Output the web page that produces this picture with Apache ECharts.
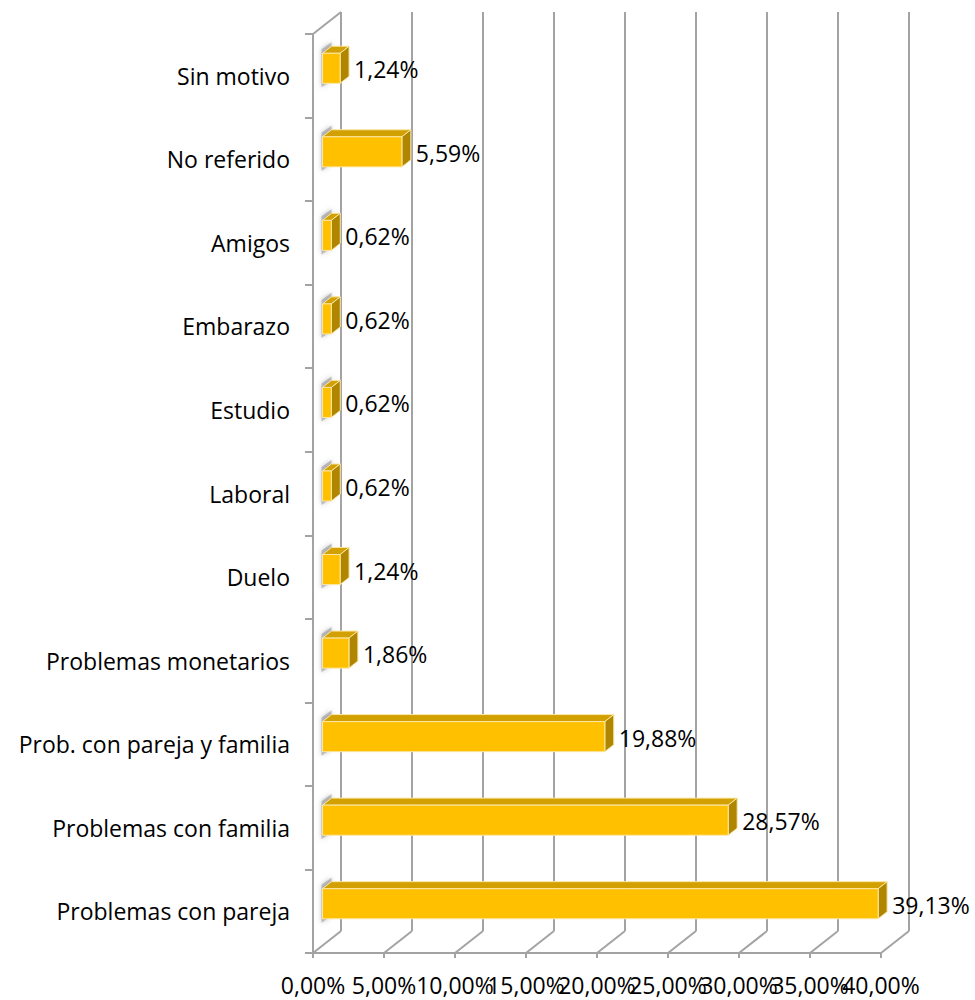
<!DOCTYPE html>
<html>
<head>
<meta charset="utf-8">
<script src="https://cdn.jsdelivr.net/npm/echarts@6/dist/echarts.min.js"></script>
<style>
  html, body { margin: 0; padding: 0; background: #fff; }
  #chart { width: 975px; height: 1000px; }
</style>
</head>
<body>
<div id="chart"></div>
<script>
// Motivos (top to bottom) and their share of cases, in percent
const categories = [
  'Sin motivo',
  'No referido',
  'Amigos',
  'Embarazo',
  'Estudio',
  'Laboral',
  'Duelo',
  'Problemas monetarios',
  'Prob. con pareja y familia',
  'Problemas con familia',
  'Problemas con pareja'
];
const values = [1.24, 5.59, 0.62, 0.62, 0.62, 0.62, 1.24, 1.86, 19.88, 28.57, 39.13];

// Value axis ticks (percent)
const xTicks = [0, 5, 10, 15, 20, 25, 30, 35, 40];

// 3D look: depth of the plot box and the slice occupied by the bars
const DX = 28, DY = -22;
const F0 = 0.34, F1 = 0.66;
const BAR_FRAC = 0.36;

const FONT = '"Open Sans", Lato, sans-serif';
const FONT_SIZE = 23;
const GRID_COLOR = '#a3a3a3';

const fmtPct = v => v.toFixed(2).replace('.', ',') + '%';

const chart = echarts.init(document.getElementById('chart'), null, { renderer: 'svg' });

function renderBar(params, api) {
  const i = api.value(1);
  const val = api.value(0);
  const p0 = api.coord([0, i]);
  const p1 = api.coord([val, i]);
  const band = api.size([0, 1])[1];
  const h = band * BAR_FRAC;
  const fx = DX * F0, fy = DY * F0;
  const ddx = DX * (F1 - F0), ddy = DY * (F1 - F0);
  const x0 = p0[0] + fx, x1 = p1[0] + fx;
  const yT = p0[1] + fy - h / 2, yB = yT + h;
  const edge = { stroke: '#fbe7a6', lineWidth: 1 };
  return {
    type: 'group',
    children: [
      // soft shade on the side wall around the bar end
      {
        type: 'polygon',
        shape: { points: [[x0 - 1, yT - 4], [x0 + ddx, yT + ddy - 4], [x0 + ddx, yB + ddy + 4], [x0 - 1, yB + 4]] },
        style: { fill: 'rgba(150,150,150,0.55)', shadowBlur: 5, shadowColor: 'rgba(120,120,120,0.8)' }
      },
      {
        type: 'polygon',
        shape: { points: [[x0, yT], [x1, yT], [x1 + ddx, yT + ddy], [x0 + ddx, yT + ddy]] },
        style: Object.assign({ fill: '#d2a000' }, edge)
      },
      {
        type: 'polygon',
        shape: { points: [[x1, yT], [x1 + ddx, yT + ddy], [x1 + ddx, yB + ddy], [x1, yB]] },
        style: Object.assign({ fill: '#b08600' }, edge)
      },
      {
        type: 'rect',
        shape: { x: x0, y: yT, width: x1 - x0, height: h },
        style: Object.assign({ fill: '#ffc000' }, edge)
      },
      {
        type: 'text',
        x: x1 + ddx + 5,
        y: (yT + yB) / 2 + 1,
        style: {
          text: fmtPct(val),
          font: FONT_SIZE + 'px ' + FONT,
          fill: '#000',
          align: 'left',
          verticalAlign: 'middle'
        }
      }
    ]
  };
}

// Floor lines running back from each value tick, plus the tick label under it
function renderFloor(params, api) {
  const v = api.value(0);
  const cs = params.coordSys;
  const x = api.coord([v, 0])[0];
  const bottom = cs.y + cs.height;
  const style = { stroke: GRID_COLOR, lineWidth: 2 };
  const children = [
    { type: 'line', shape: { x1: x, y1: bottom, x2: x + DX, y2: bottom + DY }, style },
    {
      type: 'text', x: x, y: bottom + 32,
      style: {
        text: fmtPct(v), font: FONT_SIZE + 'px ' + FONT, fill: '#000',
        lineHeight: 24, align: 'center', verticalAlign: 'middle'
      }
    }
  ];
  if (v === 0) {
    // top edge of the side wall
    children.push({ type: 'line', shape: { x1: cs.x, y1: cs.y, x2: cs.x + DX, y2: cs.y + DY }, style });
  }
  return { type: 'group', children };
}

const option = {
  backgroundColor: '#ffffff',
  animation: false,
  grid: [
    { left: 313, top: 34, width: 568, height: 919 },
    { left: 313 + DX, top: 34 + DY, width: 568, height: 919 }
  ],
  xAxis: [
    {
      gridIndex: 0, type: 'value', min: 0, max: 40, interval: 5,
      axisLine: { show: true, lineStyle: { color: GRID_COLOR, width: 2 } },
      axisTick: { show: true, length: 5, lineStyle: { color: GRID_COLOR, width: 2 } },
      splitLine: { show: false },
      axisLabel: { show: false }
    },
    {
      gridIndex: 1, type: 'value', min: 0, max: 40, interval: 5,
      axisLine: { show: false }, axisTick: { show: false }, axisLabel: { show: false },
      splitLine: { show: true, lineStyle: { color: GRID_COLOR, width: 2 } }
    }
  ],
  yAxis: [
    {
      gridIndex: 0, type: 'category', data: categories, inverse: true,
      axisLine: { show: true, lineStyle: { color: GRID_COLOR, width: 2 } },
      axisTick: { show: true, length: 8, lineStyle: { color: GRID_COLOR, width: 2 } },
      axisLabel: { color: '#000', fontSize: FONT_SIZE, fontFamily: FONT, margin: 23, interval: 0 },
      splitLine: { show: false }
    },
    {
      gridIndex: 1, type: 'category', data: categories, inverse: true, show: false
    }
  ],
  series: [
    {
      type: 'custom',
      xAxisIndex: 0, yAxisIndex: 0,
      renderItem: renderFloor,
      data: xTicks.map(v => [v, 0]),
      clip: false,
      silent: true, z: 1
    },
    {
      type: 'custom',
      xAxisIndex: 0, yAxisIndex: 0,
      renderItem: renderBar,
      encode: { x: 0, y: 1 },
      data: values.map((v, i) => [v, i]),
      clip: false,
      z: 5
    }
  ]
};

chart.setOption(option);
</script>
</body>
</html>
